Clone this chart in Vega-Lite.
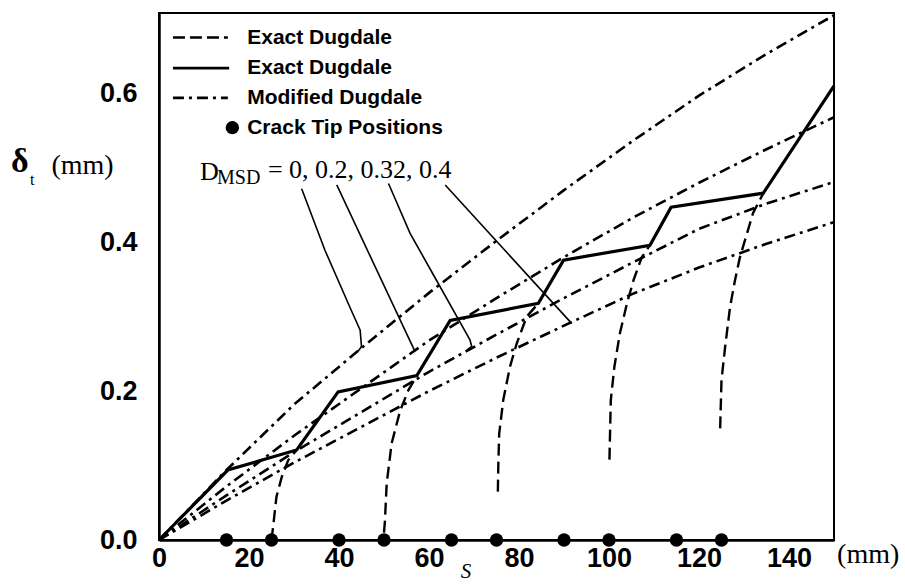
{
  "$schema": "https://vega.github.io/schema/vega-lite/v6.json",
  "width": 675,
  "height": 527,
  "autosize": {"type": "none"},
  "padding": {"left": 159, "top": 13, "right": 71, "bottom": 44},
  "background": "white",
  "config": {
    "view": {"stroke": "black", "strokeWidth": 2},
    "axis": {
      "domainColor": "black",
      "domainWidth": 2.5,
      "ticks": false,
      "grid": false,
      "labelFont": "Liberation Sans",
      "labelFontWeight": "bold",
      "labelFontSize": 27,
      "labelColor": "black",
      "labelFlush": false,
      "labelOverlap": false,
      "title": null
    }
  },
  "datasets": {
    "curves": [
      {"s": "A", "t": "mod", "x": 0, "y": 0}, {"s": "A", "t": "mod", "x": 15, "y": 0.094}, {"s": "A", "t": "mod", "x": 30, "y": 0.182}, {"s": "A", "t": "mod", "x": 45, "y": 0.258}, {"s": "A", "t": "mod", "x": 60, "y": 0.332}, {"s": "A", "t": "mod", "x": 75, "y": 0.402}, {"s": "A", "t": "mod", "x": 90, "y": 0.47}, {"s": "A", "t": "mod", "x": 105, "y": 0.535}, {"s": "A", "t": "mod", "x": 120, "y": 0.597}, {"s": "A", "t": "mod", "x": 135, "y": 0.653}, {"s": "A", "t": "mod", "x": 150, "y": 0.705},
      {"s": "B", "t": "mod", "x": 0, "y": 0}, {"s": "B", "t": "mod", "x": 15, "y": 0.072}, {"s": "B", "t": "mod", "x": 30, "y": 0.14}, {"s": "B", "t": "mod", "x": 45, "y": 0.204}, {"s": "B", "t": "mod", "x": 60, "y": 0.268}, {"s": "B", "t": "mod", "x": 75, "y": 0.325}, {"s": "B", "t": "mod", "x": 90, "y": 0.38}, {"s": "B", "t": "mod", "x": 105, "y": 0.432}, {"s": "B", "t": "mod", "x": 120, "y": 0.48}, {"s": "B", "t": "mod", "x": 135, "y": 0.525}, {"s": "B", "t": "mod", "x": 150, "y": 0.568},
      {"s": "C", "t": "mod", "x": 0, "y": 0}, {"s": "C", "t": "mod", "x": 15, "y": 0.06}, {"s": "C", "t": "mod", "x": 30, "y": 0.118}, {"s": "C", "t": "mod", "x": 45, "y": 0.172}, {"s": "C", "t": "mod", "x": 60, "y": 0.226}, {"s": "C", "t": "mod", "x": 75, "y": 0.276}, {"s": "C", "t": "mod", "x": 90, "y": 0.325}, {"s": "C", "t": "mod", "x": 105, "y": 0.372}, {"s": "C", "t": "mod", "x": 120, "y": 0.418}, {"s": "C", "t": "mod", "x": 135, "y": 0.452}, {"s": "C", "t": "mod", "x": 150, "y": 0.481},
      {"s": "D", "t": "mod", "x": 0, "y": 0}, {"s": "D", "t": "mod", "x": 15, "y": 0.053}, {"s": "D", "t": "mod", "x": 30, "y": 0.104}, {"s": "D", "t": "mod", "x": 45, "y": 0.152}, {"s": "D", "t": "mod", "x": 60, "y": 0.2}, {"s": "D", "t": "mod", "x": 75, "y": 0.245}, {"s": "D", "t": "mod", "x": 90, "y": 0.288}, {"s": "D", "t": "mod", "x": 105, "y": 0.33}, {"s": "D", "t": "mod", "x": 120, "y": 0.366}, {"s": "D", "t": "mod", "x": 135, "y": 0.398}, {"s": "D", "t": "mod", "x": 150, "y": 0.427},
      {"s": "c25", "t": "exact", "x": 25, "y": 0}, {"s": "c25", "t": "exact", "x": 25.4, "y": 0.02}, {"s": "c25", "t": "exact", "x": 26.1, "y": 0.058}, {"s": "c25", "t": "exact", "x": 27.3, "y": 0.085}, {"s": "c25", "t": "exact", "x": 28.7, "y": 0.107}, {"s": "c25", "t": "exact", "x": 30.6, "y": 0.121},
      {"s": "c50", "t": "exact", "x": 50, "y": 0.01}, {"s": "c50", "t": "exact", "x": 50.2, "y": 0.025}, {"s": "c50", "t": "exact", "x": 50.6, "y": 0.076}, {"s": "c50", "t": "exact", "x": 51.7, "y": 0.13}, {"s": "c50", "t": "exact", "x": 53.6, "y": 0.174}, {"s": "c50", "t": "exact", "x": 55.4, "y": 0.201}, {"s": "c50", "t": "exact", "x": 57.3, "y": 0.221},
      {"s": "c75", "t": "exact", "x": 75.3, "y": 0.065}, {"s": "c75", "t": "exact", "x": 75.4, "y": 0.1}, {"s": "c75", "t": "exact", "x": 75.6, "y": 0.143}, {"s": "c75", "t": "exact", "x": 76.5, "y": 0.188}, {"s": "c75", "t": "exact", "x": 78, "y": 0.233}, {"s": "c75", "t": "exact", "x": 79.5, "y": 0.264}, {"s": "c75", "t": "exact", "x": 81.7, "y": 0.3}, {"s": "c75", "t": "exact", "x": 84.3, "y": 0.318},
      {"s": "c100", "t": "exact", "x": 100.1, "y": 0.108}, {"s": "c100", "t": "exact", "x": 100.4, "y": 0.188}, {"s": "c100", "t": "exact", "x": 101.2, "y": 0.233}, {"s": "c100", "t": "exact", "x": 102.4, "y": 0.277}, {"s": "c100", "t": "exact", "x": 104, "y": 0.318}, {"s": "c100", "t": "exact", "x": 105.5, "y": 0.35}, {"s": "c100", "t": "exact", "x": 107.3, "y": 0.38}, {"s": "c100", "t": "exact", "x": 109.1, "y": 0.396},
      {"s": "c125", "t": "exact", "x": 124.7, "y": 0.15}, {"s": "c125", "t": "exact", "x": 125, "y": 0.215}, {"s": "c125", "t": "exact", "x": 125.8, "y": 0.259}, {"s": "c125", "t": "exact", "x": 126.9, "y": 0.313}, {"s": "c125", "t": "exact", "x": 128, "y": 0.349}, {"s": "c125", "t": "exact", "x": 129.1, "y": 0.38}, {"s": "c125", "t": "exact", "x": 132, "y": 0.439}, {"s": "c125", "t": "exact", "x": 134.3, "y": 0.466},
      {"s": "env", "t": "env", "x": 0, "y": 0}, {"s": "env", "t": "env", "x": 15.3, "y": 0.094}, {"s": "env", "t": "env", "x": 30.6, "y": 0.121}, {"s": "env", "t": "env", "x": 39.8, "y": 0.199}, {"s": "env", "t": "env", "x": 57.3, "y": 0.221}, {"s": "env", "t": "env", "x": 64.7, "y": 0.295}, {"s": "env", "t": "env", "x": 84.3, "y": 0.318}, {"s": "env", "t": "env", "x": 89.9, "y": 0.376}, {"s": "env", "t": "env", "x": 109.1, "y": 0.396}, {"s": "env", "t": "env", "x": 113.8, "y": 0.447}, {"s": "env", "t": "env", "x": 134.3, "y": 0.466}, {"s": "env", "t": "env", "x": 150, "y": 0.61}
    ],
    "leaders": [
      {"s": "L0", "i": 1, "x": 31.7, "y": 0.472}, {"s": "L0", "i": 2, "x": 36.9, "y": 0.389}, {"s": "L0", "i": 3, "x": 42.4, "y": 0.313}, {"s": "L0", "i": 4, "x": 44.7, "y": 0.282}, {"s": "L0", "i": 5, "x": 45, "y": 0.26}, {"s": "L0", "i": 6, "x": 44.3, "y": 0.254},
      {"s": "L1", "i": 1, "x": 39.5, "y": 0.477}, {"s": "L1", "i": 2, "x": 56.9, "y": 0.253},
      {"s": "L2", "i": 1, "x": 51, "y": 0.479}, {"s": "L2", "i": 2, "x": 55.8, "y": 0.412}, {"s": "L2", "i": 3, "x": 61, "y": 0.356}, {"s": "L2", "i": 4, "x": 66.2, "y": 0.3}, {"s": "L2", "i": 5, "x": 69.1, "y": 0.269}, {"s": "L2", "i": 6, "x": 69.5, "y": 0.26}, {"s": "L2", "i": 7, "x": 68.4, "y": 0.255},
      {"s": "L3", "i": 1, "x": 63.6, "y": 0.477}, {"s": "L3", "i": 2, "x": 91.7, "y": 0.291}
    ],
    "tips": [
      {"x": 15, "y": 0}, {"x": 25, "y": 0}, {"x": 40, "y": 0}, {"x": 50, "y": 0}, {"x": 65, "y": 0},
      {"x": 75, "y": 0}, {"x": 90, "y": 0}, {"x": 100, "y": 0}, {"x": 115, "y": 0}, {"x": 125, "y": 0}
    ],
    "legendLines": [
      {"style": "dash", "x": 3.1, "y": 0.675}, {"style": "dash", "x": 15.3, "y": 0.675},
      {"style": "solid", "x": 3.1, "y": 0.634}, {"style": "solid", "x": 15.6, "y": 0.634},
      {"style": "dashdot", "x": 3.1, "y": 0.594}, {"style": "dashdot", "x": 15.3, "y": 0.594}
    ]
  },
  "encoding": {
    "x": {
      "field": "x", "type": "quantitative",
      "scale": {"domain": [0, 150], "nice": false, "zero": false},
      "axis": {"values": [0, 20, 40, 60, 80, 100, 120, 140], "labelPadding": 5}
    },
    "y": {
      "field": "y", "type": "quantitative",
      "scale": {"domain": [0, 0.708], "nice": false, "zero": false},
      "axis": {"values": [0, 0.2, 0.4, 0.6], "format": ".1f", "labelPadding": 22}
    }
  },
  "layer": [
    {
      "data": {"name": "curves"},
      "transform": [{"filter": "datum.t == 'mod'"}],
      "mark": {"type": "line", "color": "black", "strokeWidth": 2.6, "strokeDash": [11, 5, 3, 5], "strokeCap": "butt"},
      "encoding": {"detail": {"field": "s"}}
    },
    {
      "data": {"name": "curves"},
      "transform": [{"filter": "datum.t == 'exact'"}],
      "mark": {"type": "line", "color": "black", "strokeWidth": 2.4, "strokeDash": [12, 6], "strokeCap": "butt"},
      "encoding": {"detail": {"field": "s"}}
    },
    {
      "data": {"name": "curves"},
      "transform": [{"filter": "datum.t == 'env'"}],
      "mark": {"type": "line", "color": "black", "strokeWidth": 3.2, "strokeJoin": "miter"},
      "encoding": {"detail": {"field": "s"}}
    },
    {
      "data": {"name": "leaders"},
      "mark": {"type": "line", "color": "black", "strokeWidth": 1.6},
      "encoding": {"detail": {"field": "s"}, "order": {"field": "i", "type": "quantitative"}}
    },
    {
      "data": {"name": "tips"},
      "mark": {"type": "circle", "color": "black", "opacity": 1, "size": 180}
    },
    {
      "data": {"name": "legendLines"},
      "mark": {"type": "line", "color": "black", "strokeWidth": 2.6, "strokeCap": "butt"},
      "encoding": {
        "detail": {"field": "style"},
        "strokeDash": {
          "field": "style", "type": "nominal", "legend": null,
          "scale": {"domain": ["dash", "solid", "dashdot"], "range": [[12, 5], [1, 0], [11, 5, 3, 5]]}
        }
      }
    },
    {
      "data": {"values": [{"x": 16.3, "y": 0.554}]},
      "mark": {"type": "circle", "color": "black", "opacity": 1, "size": 180}
    },
    {
      "data": {"values": [
        {"x": 19.6, "y": 0.675, "label": "Exact Dugdale"},
        {"x": 19.6, "y": 0.634, "label": "Exact Dugdale"},
        {"x": 19.6, "y": 0.594, "label": "Modified Dugdale"},
        {"x": 19.6, "y": 0.554, "label": "Crack Tip Positions"}
      ]},
      "mark": {"type": "text", "font": "Liberation Sans", "fontWeight": "bold", "fontSize": 21, "align": "left", "baseline": "middle", "color": "black"},
      "encoding": {"text": {"field": "label"}}
    },
    {
      "data": {"values": [
        {"x": 9.1, "y": 0.495, "label": "D"},
        {"x": 24.2, "y": 0.497, "label": "= 0, 0.2, 0.32, 0.4"}
      ]},
      "mark": {"type": "text", "font": "Liberation Serif", "fontSize": 26, "align": "left", "baseline": "middle", "color": "black"},
      "encoding": {"text": {"field": "label"}}
    },
    {
      "data": {"values": [{"x": 12.9, "y": 0.487, "label": "MSD"}]},
      "mark": {"type": "text", "font": "Liberation Serif", "fontSize": 20, "align": "left", "baseline": "middle", "color": "black"},
      "encoding": {"text": {"field": "label"}}
    },
    {
      "data": {"values": [{"x": -30.9, "y": 0.508, "label": "δ"}]},
      "mark": {"type": "text", "font": "Liberation Serif", "fontSize": 34, "fontWeight": "bold", "align": "center", "baseline": "middle", "color": "black"},
      "encoding": {"text": {"field": "label"}}
    },
    {
      "data": {"values": [{"x": -28.2, "y": 0.484, "label": "t"}]},
      "mark": {"type": "text", "font": "Liberation Serif", "fontSize": 16, "align": "center", "baseline": "middle", "color": "black"},
      "encoding": {"text": {"field": "label"}}
    },
    {
      "data": {"values": [
        {"x": -17, "y": 0.502, "label": "(mm)"},
        {"x": 157.6, "y": -0.02, "label": "(mm)"}
      ]},
      "mark": {"type": "text", "font": "Liberation Serif", "fontSize": 28, "align": "center", "baseline": "middle", "color": "black"},
      "encoding": {"text": {"field": "label"}}
    },
    {
      "data": {"values": [{"x": 68.2, "y": -0.043, "label": "S"}]},
      "mark": {"type": "text", "font": "Liberation Serif", "fontSize": 21, "fontStyle": "italic", "align": "center", "baseline": "middle", "color": "black"},
      "encoding": {"text": {"field": "label"}}
    }
  ]
}
